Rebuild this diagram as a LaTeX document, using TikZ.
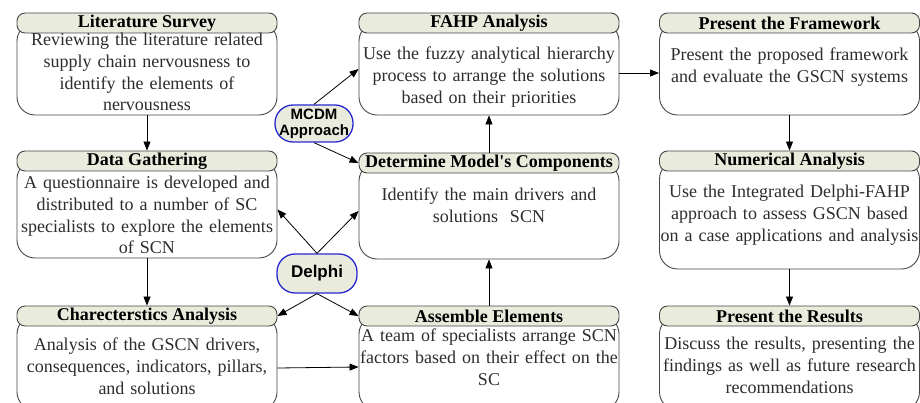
\documentclass[tikz,border=0pt]{standalone}
\usepackage{fontspec}
\setmainfont{Liberation Serif}
\newfontfamily\arialfont{Liberation Sans}
\usetikzlibrary{arrows.meta}
\definecolor{headfill}{RGB}{233,236,221}
\definecolor{boxline}{RGB}{70,70,70}
\definecolor{tagblue}{RGB}{40,40,210}
\definecolor{txtgray}{RGB}{45,45,45}
\begin{document}
\begin{tikzpicture}[
  x=1pt, y=-1pt,
  every node/.style={inner sep=0pt},
  head/.style={rectangle, draw=boxline, fill=headfill, rounded corners=8pt, line width=0.9pt,
    minimum width=260pt, minimum height=20pt, font=\bfseries\fontsize{18}{20}\selectfont},
  body/.style={rectangle, draw=boxline, fill=white, rounded corners=18pt, line width=0.9pt,
    minimum width=260pt},
  txt/.style={anchor=north, text width=258pt, align=center, text=txtgray,
    font=\fontsize{18}{21.7}\selectfont},
  tag/.style={rectangle, draw=tagblue, fill=headfill, rounded corners=18pt, line width=1.3pt,
    align=center, font=\arialfont\bfseries},
  arr/.style={draw=black, line width=0.8pt, -{Triangle[length=9pt,width=7pt]}}
]
\useasboundingbox (0,0) rectangle (920,403);

% left column
\node[body, minimum height=92pt] (litB) at (147,69) {};
\node[head] (litH) at (147,23) {Literature Survey};
\node[txt] (litT) at (147,33) {Reviewing the literature related\\ supply chain nervousness to\\ identify the elements of\\ nervousness};

\node[body, minimum height=97pt] (dataB) at (147,209.5) {};
\node[head] (dataH) at (147,161) {Data Gathering};
\node[txt] (dataT) at (147,176) {A questionnaire is developed and\\ distributed to a number of SC\\ specialists to explore the elements\\ of SCN};

\node[body, minimum height=94pt] (charB) at (147,363) {};
\node[head] (charH) at (147,316) {Charecterstics Analysis};
\node[txt] (charT) at (147,338) {Analysis of the GSCN drivers,\\ consequences, indicators, pillars,\\ and solutions};

% middle column
\node[body, minimum height=92pt] (fahpB) at (489,69) {};
\node[head] (fahpH) at (489,23) {FAHP Analysis};
\node[txt] (fahpT) at (489,47) {Use the fuzzy analytical hierarchy\\ process to arrange the solutions\\ based on their priorities};

\node[body, minimum height=96pt] (detB) at (489,211) {};
\node[head] (detH) at (489,163) {Determine Model\textquotesingle s Components};
\node[txt] (detT) at (489,188) {Identify the main drivers and\\ solutions~ SCN};

\node[body, minimum height=94pt] (asmB) at (489,363) {};
\node[head] (asmH) at (489,316) {Assemble Elements};
\node[txt] (asmT) at (489,329) {A team of specialists arrange SCN\\ factors based on their effect on the\\ SC};

% right column
\node[body, minimum height=92pt] (frmB) at (789.5,69) {};
\node[head] (frmH) at (789.5,23) {Present the Framework};
\node[txt] (frmT) at (789.5,48) {Present the proposed framework\\ and evaluate the GSCN systems};

\node[body, minimum height=108pt] (numB) at (789.5,215) {};
\node[head] (numH) at (789.5,161) {Numerical Analysis};
\node[txt] (numT) at (789.5,185) {Use the Integrated Delphi-FAHP\\ approach to assess GSCN based\\ on a case applications and analysis};

\node[body, minimum height=94pt] (resB) at (789.5,363) {};
\node[head] (resH) at (789.5,316) {Present the Results};
\node[txt] (resT) at (789.5,337) {Discuss the results, presenting the\\ findings as well as future research\\ recommendations};

% approaches
\node[tag, minimum width=78pt, minimum height=37pt, font=\arialfont\bfseries\fontsize{15}{16}\selectfont] (mcdm) at (314,123.5) {MCDM\\ Approach};
\node[tag, minimum width=80pt, minimum height=39pt, font=\arialfont\bfseries\fontsize{17}{18}\selectfont] (delphi) at (317,273.5) {Delphi};

% flow
\draw[arr] (litB) -- (dataH);
\draw[arr] (dataB) -- (charH);
\draw[arr] ([yshift=-5pt]charB.east) -- ([yshift=-4pt]asmB.west);
\draw[arr] (asmH.north) -- (detB.south);
\draw[arr] (detH.north) -- (fahpB.south);
\draw[arr] ([yshift=-4pt]fahpB.east) -- ([yshift=-4pt]frmB.west);
\draw[arr] (frmB.south) -- (numH.north);
\draw[arr] (numB.south) -- (resH.north);

\draw[arr] (mcdm.north) -- (fahpB.west);
\draw[arr] (mcdm.south) -- (detH.west);
\draw[arr] (delphi.north) -- (dataB.east);
\draw[arr] (delphi.north) -- (detB.west);
\draw[arr] (delphi.south) -- (charH.east);
\draw[arr] (delphi.south) -- (asmH.west);
\end{tikzpicture}
\end{document}
